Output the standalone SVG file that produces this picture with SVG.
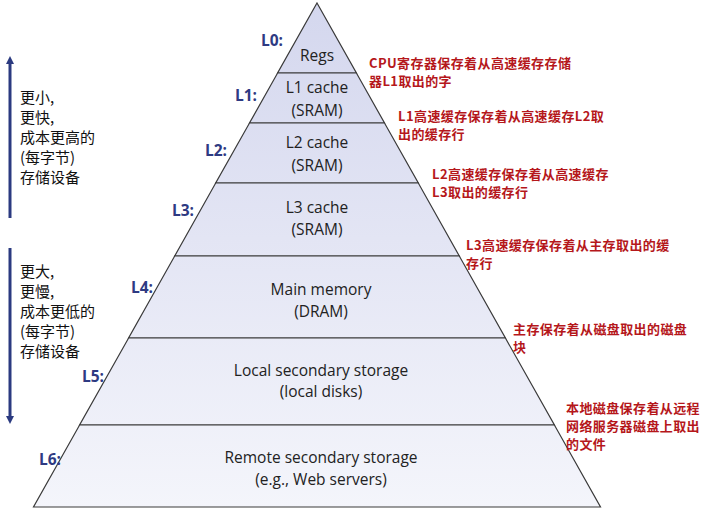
<svg xmlns="http://www.w3.org/2000/svg" width="720" height="509" viewBox="0 0 720 509">
<defs>
<linearGradient id="g" gradientUnits="userSpaceOnUse" x1="0" y1="3" x2="0" y2="507">
<stop offset="0" stop-color="#d4d7ee"/>
<stop offset="1" stop-color="#f4f5fb"/>
</linearGradient>
<marker id="ah" viewBox="0 0 10 10" refX="5" refY="5" markerWidth="8" markerHeight="10" markerUnits="userSpaceOnUse" orient="auto">
<path d="M0,0 L10,5 L0,10 z" fill="#2b3a80"/>
</marker>
<style>
.band{fill:url(#g);stroke:#3a3a3a;stroke-width:1.2}
.nt{font-family:"Open Sans","Noto Sans",sans-serif;font-size:15.5px;fill:#222;text-anchor:middle}
.lv{font-family:"Open Sans","Noto Sans",sans-serif;font-size:15.5px;font-weight:bold;fill:#2e3a82}
.rd{font-family:"Noto Sans CJK SC",sans-serif;font-size:13px;letter-spacing:0.4px;font-weight:bold;fill:#b5171b}
.lt{font-family:"Noto Sans CJK SC",sans-serif;font-size:15px;fill:#111}
.ar{stroke:#2b3a80;stroke-width:3;fill:none}
</style>
</defs>
<rect width="720" height="509" fill="#fff"/>
<g id="L0"><polygon class="band" points="317,3 356.4,73 277.6,73"/><text class="nt" x="317" y="61">Regs</text><text class="lv" x="261" y="46">L0:</text></g>
<g id="L1"><polygon class="band" points="277.6,73 356.4,73 384.5,123 249.5,123"/><text class="nt" x="317" y="93">L1 cache</text><text class="nt" x="317" y="116">(SRAM)</text><text class="lv" x="235" y="101">L1:</text></g>
<g id="L2"><polygon class="band" points="249.5,123 384.5,123 418.3,183 215.7,183"/><text class="nt" x="317" y="148">L2 cache</text><text class="nt" x="317" y="171">(SRAM)</text><text class="lv" x="205" y="156">L2:</text></g>
<g id="L3"><polygon class="band" points="215.7,183 418.3,183 459.3,256 174.7,256"/><text class="nt" x="317" y="213">L3 cache</text><text class="nt" x="317" y="235">(SRAM)</text><text class="lv" x="172" y="216">L3:</text></g>
<g id="L4"><polygon class="band" points="174.7,256 459.3,256 505.4,338 128.6,338"/><text class="nt" x="321" y="295">Main memory</text><text class="nt" x="321" y="317">(DRAM)</text><text class="lv" x="131" y="293">L4:</text></g>
<g id="L5"><polygon class="band" points="128.6,338 505.4,338 554.4,425 79.6,425"/><text class="nt" x="321" y="376">Local secondary storage</text><text class="nt" x="321" y="397">(local disks)</text><text class="lv" x="82" y="382">L5:</text></g>
<g id="L6"><polygon class="band" points="79.6,425 554.4,425 600.5,507 33.5,507"/><text class="nt" x="321" y="463">Remote secondary storage</text><text class="nt" x="321" y="485">(e.g., Web servers)</text><text class="lv" x="39" y="465">L6:</text></g>
<g id="connectors">
<line class="ar" x1="10" y1="218" x2="10" y2="60" marker-end="url(#ah)"/>
<line class="ar" x1="10" y1="248" x2="10" y2="420" marker-end="url(#ah)"/>
</g>
<g id="left-top"><text class="lt" x="20" y="103">更小,</text><text class="lt" x="20" y="123">更快,</text><text class="lt" x="20" y="143">成本更高的</text><text class="lt" x="20" y="163">(每字节)</text><text class="lt" x="20" y="183">存储设备</text></g>
<g id="left-bottom"><text class="lt" x="20" y="277">更大,</text><text class="lt" x="20" y="297">更慢,</text><text class="lt" x="20" y="317">成本更低的</text><text class="lt" x="20" y="337">(每字节)</text><text class="lt" x="20" y="357">存储设备</text></g>
<g id="notes">
<text class="rd" x="369" y="68">CPU寄存器保存着从高速缓存存储</text><text class="rd" x="369" y="86">器L1取出的字</text>
<text class="rd" x="398" y="121">L1高速缓存保存着从高速缓存L2取</text><text class="rd" x="398" y="139">出的缓存行</text>
<text class="rd" x="432" y="179">L2高速缓存保存着从高速缓存</text><text class="rd" x="432" y="197">L3取出的缓存行</text>
<text class="rd" x="466" y="250">L3高速缓存保存着从主存取出的缓</text><text class="rd" x="466" y="268">存行</text>
<text class="rd" x="513" y="334">主存保存着从磁盘取出的磁盘</text><text class="rd" x="513" y="352">块</text>
<text class="rd" x="566" y="413">本地磁盘保存着从远程</text><text class="rd" x="566" y="431">网络服务器磁盘上取出</text><text class="rd" x="566" y="449">的文件</text>
</g>
</svg>
